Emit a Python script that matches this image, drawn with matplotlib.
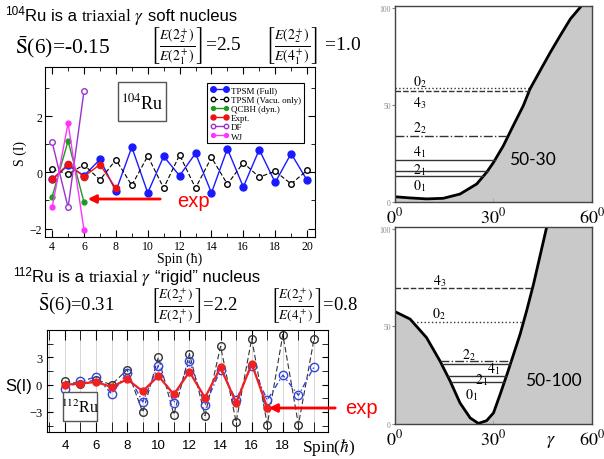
import numpy as np
import matplotlib.pyplot as plt
from matplotlib.patches import Rectangle, FancyArrowPatch
from matplotlib.transforms import Affine2D
from matplotlib.ticker import MultipleLocator

W, H = 604, 460
plt.rcParams['mathtext.fontset'] = 'stix'
plt.rcParams['font.family'] = ['Liberation Serif', 'DejaVu Serif']
SANS = ['Liberation Sans', 'DejaVu Sans']

# ---- 104Ru staggering S(I)
spin_104 = np.arange(4, 21)
tpsm_full_104 = [-0.25, 0.25, -0.12, 0.46, -0.67, 0.90, -0.73, 0.57, -0.12,
                 0.68, -0.73, 0.84, -0.52, 0.81, -0.36, 0.67, -0.28]
tpsm_vac_104 = [0.12, -0.06, 0.27, -0.27, 0.45, -0.46, 0.58, -0.56, 0.62,
                -0.56, 0.53, -0.42, 0.34, -0.17, 0.04, -0.41, 0.07]
spin_short = [4, 5, 6]
qcbh_104 = [-0.86, 1.12, -1.07]
df_104 = [1.07, -1.25, 2.90]
wj_104 = [-1.25, 1.76, -2.06]
spin_expt_104 = [4, 5, 6, 7, 8]
expt_104 = [-0.25, 0.29, -0.15, 0.28, -0.57]

# ---- 112Ru staggering S(I)
spin_112 = np.arange(4, 21)
vac_112 = [0.37, 0.10, 0.55, 0.0, 1.65, -3.05, 3.0, -3.3, 3.4, -3.4,
           4.2, -4.1, 5.05, -4.4, 5.5, -4.4, 5.0]
full_112 = [-0.44, 0.37, 0.84, -1.0, 1.28, -1.9, 2.1, -2.0, 2.6, -2.27,
            1.65, -1.68, 2.1, -1.7, 1.05, -1.17, 1.94]
spin_expt_112 = np.arange(4, 18)
expt_112 = [0.0, 0.10, 0.30, -0.26, 0.59, -0.73, 0.95, -1.06, 1.4, -1.43,
            1.9, -2.0, 2.3, -2.53]

# ---- potentials V(gamma)
gam_a = [0, 4.6, 9.6, 14.7, 19.8, 24.9, 27.9, 30, 33, 36, 39.1, 41.1,
         44.2, 47.3, 50.3, 53.4, 56.4, 58, 60]
pot_a = [2.7, 2.1, 1.6, 1.9, 4.1, 9.3, 15.3, 20.4, 29, 39.3, 49.7, 58.2,
         67.7, 77.1, 85.7, 94.3, 100.3, 104, 108]
lev_a = [58.6, 57.0, 34.2, 21.8, 16.0, 13.4]
name_a = ['0_2', '4_3', '2_2', '4_1', '2_1', '0_1']

gam_b = [0, 4.6, 9.6, 13.7, 16.8, 19.8, 22.9, 25.4, 27.9, 30, 32, 34.1,
         36.1, 38.1, 40.1, 42.2, 44.2, 46.2, 50, 60]
pot_b = [57.6, 53.8, 44.3, 32.3, 22.0, 10.8, 3.1, 0.3, 1.7, 5.7, 15.1,
         25.4, 35.7, 46.0, 58.1, 71.8, 86.4, 101, 125, 190]
lev_b = [69.8, 52.4, 32.3, 30.6, 24.6, 21.5]
name_b = ['4_3', '0_2', '2_2', '4_1', '2_1', '0_1']

fig = plt.figure(figsize=(W / 100, H / 100), dpi=100)
pix = Affine2D().scale(1 / W, -1 / H).translate(0, 1) + fig.transFigure
renderer = fig.canvas.get_renderer()


def axes_px(l, t, r, b):
    return fig.add_axes([l / W, 1 - b / H, (r - l) / W, (b - t) / H])


def txt(x, y, s, **kw):
    return fig.text(x, y, s, transform=pix, **kw)


def header(x, y, pieces):
    # pieces drawn one after another: (text, dy, gap after, text kwargs)
    for s, dy, gap, kw in pieces:
        t = txt(x, y + dy, s, **kw)
        x += t.get_window_extent(renderer=renderer).width + gap


# ---------------- headers
sans12 = dict(fontsize=12, family=SANS)
header(5, 21, [('104', -6, 0, dict(fontsize=8.5, family=SANS)),
               ('Ru is a', 0, 4, sans12),
               (r'triaxial $\gamma$', 0, 4, dict(fontsize=12.5)),
               ('soft nucleus', 0, 0, sans12)])
header(13, 282, [('112', -6, 0, dict(fontsize=8.5, family=SANS)),
                 ('Ru is a', 0, 4, sans12),
                 (r'triaxial $\gamma$', 0, 4, dict(fontsize=12.5)),
                 ('\u201crigid\u201d nucleus', 0, 0, sans12)])

txt(15, 53, r'$\bar{\mathrm{S}}$(6)=-0.15', fontsize=15.5)
txt(150, 46, r'$\left[\frac{E(2_2^+)}{E(2_1^+)}\right]$=2.5', fontsize=14, va='center')
txt(265, 46, r'$\left[\frac{E(2_2^+)}{E(4_1^+)}\right]$ =1.0', fontsize=14, va='center')
txt(38, 310, r'$\bar{\mathrm{S}}$(6)=0.31', fontsize=13.5)
txt(150, 306, r'$\left[\frac{E(2_2^+)}{E(2_1^+)}\right]$=2.2', fontsize=13.5, va='center')
txt(270, 306, r'$\left[\frac{E(2_2^+)}{E(4_1^+)}\right]$=0.8', fontsize=13.5, va='center')

# ---------------- 104Ru panel
ax1 = axes_px(45, 68, 315, 238)
ax1.plot(spin_104, tpsm_full_104, '-o', color='#1a1aff', ms=5, lw=1, label='TPSM (Full)')
ax1.plot(spin_104, tpsm_vac_104, 'o', ls=(0, (4, 2)), color='black', mfc='white',
         ms=4, lw=0.8, label='TPSM (Vacu. only)')
ax1.plot(spin_short, qcbh_104, '-o', color='#1f9a1f', ms=3.5, lw=1, label='QCBH (dyn.)')
ax1.plot(spin_expt_104, expt_104, '-o', color='#ee1111', ms=4.5, lw=1, label='Expt.')
ax1.plot(spin_short, df_104, '-o', color='#9933cc', mfc='white', ms=4, lw=1, label='DF')
ax1.plot(spin_short, wj_104, '-o', color='#ff33ff', ms=3.5, lw=1, label='WJ')
ax1.set_xlim(3.55, 20.5)
ax1.set_ylim(-2.3, 3.75)
ax1.xaxis.set_major_locator(MultipleLocator(2))
ax1.xaxis.set_minor_locator(MultipleLocator(1))
ax1.yaxis.set_major_locator(MultipleLocator(2))
ax1.yaxis.set_minor_locator(MultipleLocator(1))
ax1.tick_params(which='both', direction='in', top=True, right=True, labelsize=8.5, pad=2)
ax1.tick_params(which='major', length=5)
ax1.tick_params(which='minor', length=3)
ax1.set_xlabel('Spin (\u0127)', fontsize=10, labelpad=0)
ax1.set_ylabel('S (I)', fontsize=10, labelpad=2)
leg = ax1.legend(loc='upper left', bbox_to_anchor=(0.585, 0.93), numpoints=2, fontsize=6.5,
                 labelspacing=0.1, handlelength=2.0, handletextpad=0.3, borderpad=0.3,
                 markerscale=0.8, fancybox=False, edgecolor='black', framealpha=1)
leg.get_frame().set_linewidth(0.8)
fig.add_artist(Rectangle((118, 83), 48, 39, transform=pix, fill=False, ec='#555555', lw=1))
txt(142, 103, r'$^{104}$Ru', fontsize=13, ha='center', va='center')
txt(177, 207, 'exp', fontsize=14.5, color='red', family=SANS)
fig.add_artist(FancyArrowPatch((163, 200), (85, 200), transform=pix, arrowstyle='-|>',
                               mutation_scale=12, color='red', lw=2))

# ---------------- 112Ru panel
ax2 = axes_px(47, 331, 328, 433)
ax2.plot(spin_112, vac_112, 'o', ls=(0, (5, 2.5)), color='#333333', mfc='none', ms=5.5, lw=0.8)
ax2.plot(spin_112, full_112, 'o', ls=(0, (4, 2, 1, 2)), color='#3344dd', mfc='none', ms=6, lw=1)
ax2.plot(spin_expt_112, expt_112, '-o', color='#ee2222', ms=5, lw=1.6)
ax2.set_xlim(2.85, 20.9)
ax2.set_ylim(-5.2, 6.0)
ax2.set_xticks(np.arange(4, 19, 2))
ax2.xaxis.set_minor_locator(MultipleLocator(1))
ax2.set_yticks([-3, 0, 3])
ax2.yaxis.set_minor_locator(MultipleLocator(1.5))
ax2.grid(which='both', axis='x', color='#d0d0d0', lw=0.6)
ax2.set_axisbelow(True)
ax2.tick_params(which='both', direction='in', top=True, right=True)
ax2.tick_params(axis='x', which='both', length=7)
ax2.tick_params(axis='y', which='both', length=4, labelsize=9)
ax2.tick_params(axis='x', labelsize=9.5, pad=5)
for lab in ax2.get_xticklabels():
    lab.set_family(SANS)
fig.add_artist(Rectangle((63, 393), 34, 29, transform=pix, fc='white', ec='#555555', lw=1))
txt(80, 408, r'$^{112}$Ru', fontsize=11.5, ha='center', va='center')
txt(5, 387, 'S(I)', fontsize=12, family=SANS, va='center')
txt(302, 452, r'Spin($\hbar$)', fontsize=12.5)
txt(345, 414, 'exp', fontsize=14.5, color='red', family=SANS)
fig.add_artist(FancyArrowPatch((338, 409), (266, 409), transform=pix, arrowstyle='-|>',
                               mutation_scale=12, color='red', lw=2))


# ---------------- potential panels
def potential(ax, g, v, levels, names, styles, label_xy, tag, tag_xy, gamma_lab):
    g = np.asarray(g, float)
    v = np.asarray(v, float)
    ax.fill_between(g, v, 0, color='#c9c9c9', lw=0)
    ax.plot(g, v, color='black', lw=2)
    i = int(np.argmin(v))
    for e, ls in zip(levels, styles):
        left = 0 if e >= v[0] else np.interp(e, v[:i + 1][::-1], g[:i + 1][::-1])
        right = np.interp(e, v[i:], g[i:])
        ax.plot([left, right], [e, e], color='#333333', lw=1, ls=ls)
    for n, (lx, ly) in zip(names, label_xy):
        ax.text(lx, ly, '$%s$' % n, fontsize=10, ha='center', va='center')
    ax.text(tag_xy[0], tag_xy[1], tag, fontsize=12.5, family=['Lato', 'DejaVu Sans'],
            ha='center', va='center')
    ax.set_xlim(0, 60)
    ax.set_ylim(0, 101)
    ax.set_xticks([0, 30, 60])
    ax.set_xticklabels(['$0^0$', '$30^0$', '$60^0$'], fontsize=13)
    ax.set_yticks([0, 50, 100])
    ax.set_yticklabels(['0', '50', '100'], fontsize=5.5, color='#888888')
    ax.tick_params(axis='x', direction='in', length=3, color='#aaaaaa', pad=3)
    ax.tick_params(axis='y', direction='out', length=2, color='#888888', pad=1)
    for s in ax.spines.values():
        s.set_color('#444444')
        s.set_linewidth(1)
    if gamma_lab:
        ax.text(47.5, -8.5, r'$\gamma$', fontsize=13, ha='center', va='center', clip_on=False)


ax3 = axes_px(395, 7, 592, 203)
potential(ax3, gam_a, pot_a, lev_a, name_a, [':', (0, (4, 1.5)), '-.', '-', '-', '-'],
          [(7.6, 62.4), (7.6, 51.5), (7.6, 38.6), (7.6, 26.0), (7.6, 17.2), (7.6, 8.6)],
          '50-30', (41.8, 22), False)

ax4 = axes_px(395, 228, 592, 425)
potential(ax4, gam_b, pot_b, lev_b, name_b, [(0, (4, 1.5)), ':', '-.', '-', '-', '-'],
          [(13.5, 73.7), (13.5, 56.7), (22.5, 36.0), (30.0, 28.9), (26.4, 22.8), (23.4, 15.1)],
          '50-100', (48.2, 22.8), True)

fig.savefig('out.png', dpi=100)
